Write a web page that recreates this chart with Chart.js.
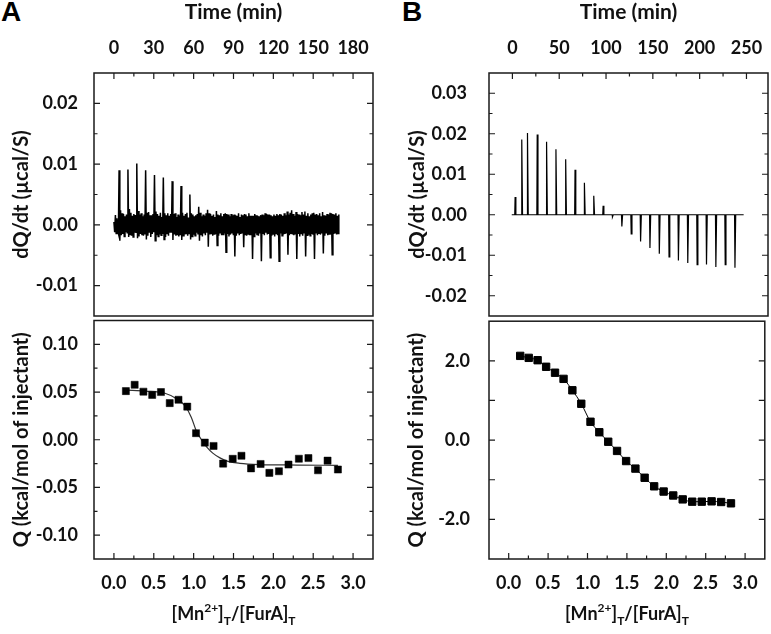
<!DOCTYPE html>
<html>
<head>
<meta charset="utf-8">
<script src="https://cdn.jsdelivr.net/npm/chart.js@4.4.1/dist/chart.umd.min.js"></script>
<style>
  html, body { margin: 0; padding: 0; background: #fff; }
  #fig { position: relative; width: 771px; height: 634px; overflow: hidden; }
  canvas { position: absolute; }
  .tag { position: absolute; font: bold 28px "Liberation Sans", Arial, sans-serif; color: #000; }
</style>
</head>
<body>
<div id="fig">
  <div class="tag" style="left:1px;top:-4px">A</div>
  <div class="tag" style="left:402px;top:-4px">B</div>
  <canvas id="aTop" width="385" height="317" style="left:0;top:0"></canvas>
  <canvas id="aBot" width="385" height="319" style="left:0;top:315px"></canvas>
  <canvas id="bTop" width="386" height="317" style="left:385px;top:0"></canvas>
  <canvas id="bBot" width="386" height="319" style="left:385px;top:315px"></canvas>
</div>
<script>
// ---------- panel A: raw heat, sampled every 0.555 min (units of 1e-4 µcal/s) ----------
const thermoAStep = 0.555;
const thermoALead = [5, -12, 16, -14, 11, -9];
const thermoARows = [
  [-14, 90, -26, 24, -17, 19, -15, 18, -19, 14, -12, 17],
  [-13, 91, -20, 26, -16, 20, -18, 15, -20, 18, -13, 16],
  [-12, 101, -22, 23, -19, 17, -15, 19, -17, 14, -18, 17],
  [-16, 90, -24, 20, -18, 21, -13, 16, -20, 16, -15, 18],
  [-12, 82, -26, 22, -17, 18, -19, 15, -16, 20, -17, 13],
  [-15, 78, -24, 19, -20, 16, -14, 19, -18, 15, -13, 18],
  [-13, 72, -25, 18, -16, 19, -18, 13, -17, 17, -19, 15],
  [-17, 64, -25, 20, -18, 15, -16, 18, -14, 20, -18, 12],
  [-14, 50, -24, 19, -19, 17, -16, 14, -18, 16, -13, 18],
  [-16, 30, -26, 20, -17, 14, -19, 17, -14, 15, -17, 19],
  [-13, 25, -36, 19, -16, 18, -14, 15, -18, 17, -15, 13],
  [-15, 23, -34, 17, -18, 16, -13, 19, -17, 14, -16, 18],
  [-14, 19, -45, 18, -15, 17, -19, 14, -16, 18, -14, 16],
  [-17, 17, -52, 16, -18, 15, -14, 19, -17, 13, -15, 17],
  [-13, 16, -37, 18, -16, 17, -18, 14, -15, 19, -17, 15],
  [-16, 15, -56, 15, -19, 18, -14, 16, -17, 15, -18, 14],
  [-14, 16, -60, 17, -15, 16, -17, 19, -13, 18, -16, 17],
  [-15, 17, -54, 16, -18, 14, -15, 17, -19, 15, -14, 18],
  [-17, 16, -60, 18, -14, 17, -18, 15, -16, 19, -15, 16],
  [-14, 22, -49, 17, -17, 20, -15, 24, -16, 18, -17, 15],
  [-16, 21, -56, 18, -15, 17, -19, 16, -14, 21, -18, 17],
  [-13, 22, -52, 15, -17, 19, -16, 14, -18, 17, -15, 19],
  [-15, 20, -56, 17, -14, 18, -17, 16, -15, 19, -16, 14],
  [-14, 21, -47, 16, -18, 15, -14, 18, -17, 17, -15, 20],
  [-16, 19, -49, 18, -15, 17, -13, 19, -16, 15, -14, 17]
];

// panel A: integrated heats and fit
const ratioA = [0.15, 0.26, 0.37, 0.48, 0.59, 0.70, 0.81, 0.92, 1.03, 1.14, 1.25, 1.37,
                1.49, 1.60, 1.72, 1.84, 1.95, 2.07, 2.19, 2.32, 2.44, 2.56, 2.68, 2.81];
const heatA = [0.051, 0.0576, 0.0504, 0.047, 0.050, 0.0384, 0.0419, 0.0347, 0.0069, -0.003, -0.0065, -0.025,
               -0.020, -0.0168, -0.030, -0.0254, -0.0347, -0.033, -0.026, -0.0199, -0.0192, -0.032, -0.0219, -0.0312];
const fitAx = [0.15, 0.40, 0.64, 0.78, 0.89, 0.97, 1.03, 1.10, 1.16, 1.24, 1.33, 1.43, 1.58, 1.83, 2.30, 2.81];
const fitAy = [0.052, 0.051, 0.0487, 0.0432, 0.0357, 0.0237, 0.010, -0.0003, -0.0072, -0.014, -0.019,
               -0.0226, -0.0247, -0.026, -0.0265, -0.0268];

// ---------- panel B ----------
const injTimesB = [2.9, 10.0, 16.1, 26.5, 36.5, 46.5, 56.9, 66.9, 76.9, 86.9, 96.9, 106.9, 116.9,
                   126.9, 136.9, 146.9, 156.9, 167.3, 177.3, 187.3, 197.3, 207.3, 217.3, 227.3, 237.7];
const peakB = [0.0044, 0.0186, 0.0202, 0.0198, 0.0180, 0.0162, 0.0137, 0.0111, 0.0079, 0.0047, 0.0022, -0.0005,
               -0.0029, -0.0047, -0.0066, -0.0082, -0.0096, -0.0104, -0.0113, -0.0119, -0.0123, -0.0123,
               -0.0129, -0.0123, -0.0131];
const runB = [-0.7, 247];
const ratioB = [0.146, 0.254, 0.367, 0.475, 0.588, 0.696, 0.808, 0.921, 1.038, 1.15, 1.263, 1.375,
                1.49, 1.608, 1.725, 1.846, 1.966, 2.088, 2.208, 2.329, 2.45, 2.575, 2.696, 2.821];
const heatB = [2.125, 2.075, 2.016, 1.85, 1.70, 1.545, 1.257, 0.917, 0.463, 0.198, -0.041, -0.273,
               -0.529, -0.719, -0.95, -1.166, -1.298, -1.397, -1.496, -1.554, -1.554, -1.545, -1.562, -1.595];

// ---------- ticks ----------
const timeMajorA = [0, 30, 60, 90, 120, 150, 180];
const timeMinorA = [15, 45, 75, 105, 135, 165];
const timeMajorB = [0, 50, 100, 150, 200, 250];
const timeMinorB = [25, 75, 125, 175, 225];
const ratioMajor = [0, 0.5, 1, 1.5, 2, 2.5, 3];
const ratioMinor = [0.25, 0.75, 1.25, 1.75, 2.25, 2.75];
const dqMajorA = [-0.01, 0, 0.01, 0.02];
const dqMinorA = [-0.005, 0.005, 0.015];
const qMajorA = [-0.1, -0.05, 0, 0.05, 0.1];
const qMinorA = [-0.075, -0.025, 0.025, 0.075];
const dqMajorB = [-0.02, -0.01, 0, 0.01, 0.02, 0.03];
const dqMinorB = [-0.015, -0.005, 0.005, 0.015, 0.025];
const qLabelsB = [-2, 0, 2];
const qMinorB = [-1, 1];

const ink = '#111';
const tickFont = { family: 'Lato', size: 18, weight: 'bold' };
const titleFont = { family: 'Lato', size: 20, weight: 'bold' };
Chart.defaults.font.family = 'Lato';

// frame box plus inward tick marks
const frameTicks = {
  id: 'frameTicks',
  afterDatasetsDraw(chart, args, o) {
    const { ctx, chartArea: a } = chart;
    ctx.save();
    ctx.strokeStyle = '#1a1a1a';
    ctx.lineWidth = 1.5;
    ctx.strokeRect(a.left, a.top, a.right - a.left, a.bottom - a.top);
    ctx.lineWidth = 1.2;
    for (const m of o.marks) {
      const s = chart.scales[m.scale];
      ctx.beginPath();
      for (const v of m.values) {
        const p = s.getPixelForValue(v);
        for (const side of m.sides) {
          if (side === 'top') { ctx.moveTo(p, a.top); ctx.lineTo(p, a.top + m.len); }
          if (side === 'bottom') { ctx.moveTo(p, a.bottom); ctx.lineTo(p, a.bottom - m.len); }
          if (side === 'left') { ctx.moveTo(a.left, p); ctx.lineTo(a.left + m.len, p); }
          if (side === 'right') { ctx.moveTo(a.right, p); ctx.lineTo(a.right - m.len, p); }
        }
      }
      ctx.stroke();
    }
    ctx.restore();
  }
};

// x title with super/subscripts
const ratioTitle = {
  id: 'ratioTitle',
  afterDraw(chart, args, o) {
    if (!o.y) return;
    const { ctx, chartArea: a } = chart;
    const parts = [['[Mn', 0], ['2+', -1], [']', 0], ['T', 1], ['/[FurA]', 0], ['T', 1]];
    const big = 'bold 18px Lato', small = 'bold 12px Lato';
    ctx.save();
    ctx.fillStyle = ink;
    ctx.textBaseline = 'alphabetic';
    let w = 0;
    for (const [t, k] of parts) { ctx.font = k ? small : big; w += ctx.measureText(t).width; }
    let x = (a.left + a.right) / 2 - w / 2;
    for (const [t, k] of parts) {
      ctx.font = k ? small : big;
      ctx.fillText(t, x, o.y + (k < 0 ? -8 : k > 0 ? 5 : 0));
      x += ctx.measureText(t).width;
    }
    ctx.restore();
  }
};

function axis(pos, min, max, labels, fmt, size, pad, title) {
  return {
    type: 'linear', position: pos, min, max,
    grid: { display: false, drawTicks: false },
    border: { display: false },
    afterBuildTicks: s => { s.ticks = labels.map(v => ({ value: v })); },
    afterFit: s => {
      if (pos === 'left') s.width = size; else s.height = size;
      s.paddingTop = s.paddingBottom = s.paddingLeft = s.paddingRight = 0;
    },
    ticks: { autoSkip: false, maxRotation: 0, padding: pad, font: tickFont, color: ink, callback: fmt },
    title: title ? Object.assign({ display: true, font: titleFont, color: ink }, title) : { display: false }
  };
}

function build(id, datasets, scales, padding, marks, ratioY) {
  return new Chart(document.getElementById(id), {
    type: 'scatter',
    data: { datasets },
    options: {
      responsive: false, animation: false, devicePixelRatio: 1,
      layout: { padding },
      plugins: { legend: { display: false }, tooltip: { enabled: false },
                 frameTicks: { marks }, ratioTitle: { y: ratioY } },
      scales
    },
    plugins: [frameTicks, ratioTitle]
  });
}

const f0 = v => v.toFixed(0), f1 = v => v.toFixed(1), f2 = v => v.toFixed(2);
const timeTitle = { text: 'Time (min)', font: { family: 'Lato', size: 21, weight: 'bold' }, padding: { top: 0, bottom: 0 } };

// A top
const thermoA = thermoALead.concat(...thermoARows);
build('aTop', [{
  data: thermoA.map((v, i) => ({ x: i * thermoAStep, y: v / 1e4 })),
  showLine: true, borderColor: '#000', borderWidth: 1.5, pointRadius: 0
}], {
  x: axis('top', -15, 195, timeMajorA, f0, 73, 14, timeTitle),
  y: axis('left', -0.015, 0.025, dqMajorA, f2, 94, 16, { text: 'dQ/dt (µcal/S)', padding: { top: 10, bottom: 0 } })
}, { right: 12, bottom: 1 }, [
  { scale: 'x', values: timeMajorA, len: 6, sides: ['top'] },
  { scale: 'x', values: timeMinorA, len: 3.5, sides: ['top'] },
  { scale: 'y', values: dqMajorA, len: 6, sides: ['left', 'right'] },
  { scale: 'y', values: dqMinorA, len: 3.5, sides: ['left', 'right'] }
]);

// A bottom
build('aBot', [{
  data: ratioA.map((x, i) => ({ x, y: heatA[i] })),
  pointStyle: 'rect', pointRadius: 5, backgroundColor: '#000', borderColor: '#000', borderWidth: 0.5
}, {
  data: fitAx.map((x, i) => ({ x, y: fitAy[i] })),
  showLine: true, borderColor: '#333', borderWidth: 1.2, pointRadius: 0, cubicInterpolationMode: 'monotone'
}], {
  x: axis('bottom', -0.25, 3.25, ratioMajor, f1, 75, 13),
  y: axis('left', -0.125, 0.125, qMajorA, f2, 94, 16, { text: 'Q (kcal/mol of injectant)', padding: { top: 10, bottom: 0 } })
}, { top: 1, right: 12 }, [
  { scale: 'x', values: ratioMajor, len: 6, sides: ['bottom'] },
  { scale: 'x', values: ratioMinor, len: 3.5, sides: ['bottom'] },
  { scale: 'y', values: qMajorA, len: 6, sides: ['left', 'right'] },
  { scale: 'y', values: qMinorA, len: 3.5, sides: ['left', 'right'] }
], 305);

// B top: baseline with one sharp peak per injection
const thermoB = [{ x: runB[0], y: 0 }];
injTimesB.forEach((t, i) => {
  thermoB.push({ x: t - 0.4, y: 0 }, { x: t, y: peakB[i] }, { x: t + 0.8, y: 0 });
});
thermoB.push({ x: runB[1], y: 0 });
build('bTop', [{
  data: thermoB, showLine: true, borderColor: '#000', borderWidth: 1.2, pointRadius: 0
}], {
  x: axis('top', -25, 273, timeMajorB, f0, 73, 14, timeTitle),
  y: axis('left', -0.025, 0.035, dqMajorB, f2, 104, 22, { text: 'dQ/dt (µcal/S)', padding: { top: 21, bottom: 0 } })
}, { right: 3, bottom: 1 }, [
  { scale: 'x', values: timeMajorB, len: 6, sides: ['top'] },
  { scale: 'x', values: timeMinorB, len: 3.5, sides: ['top'] },
  { scale: 'y', values: dqMajorB, len: 6, sides: ['left', 'right'] },
  { scale: 'y', values: dqMinorB, len: 3.5, sides: ['left', 'right'] }
]);

// B bottom
build('bBot', [{
  data: ratioB.map((x, i) => ({ x, y: heatB[i] })),
  pointStyle: 'rect', pointRadius: 5.2, backgroundColor: '#000', borderColor: '#000',
  showLine: true, borderWidth: 1, cubicInterpolationMode: 'monotone'
}], {
  x: axis('bottom', -0.25, 3.25, ratioMajor, f1, 75, 13),
  y: axis('left', -3, 3, qLabelsB, f1, 104, 19, { text: 'Q (kcal/mol of injectant)', padding: { top: 20, bottom: 0 } })
}, { top: 1, right: 3 }, [
  { scale: 'x', values: ratioMajor, len: 6, sides: ['bottom'] },
  { scale: 'x', values: ratioMinor, len: 3.5, sides: ['bottom'] },
  { scale: 'y', values: qLabelsB, len: 6, sides: ['left', 'right'] },
  { scale: 'y', values: qMinorB, len: 6, sides: ['left', 'right'] }
], 305);
</script>
</body>
</html>
